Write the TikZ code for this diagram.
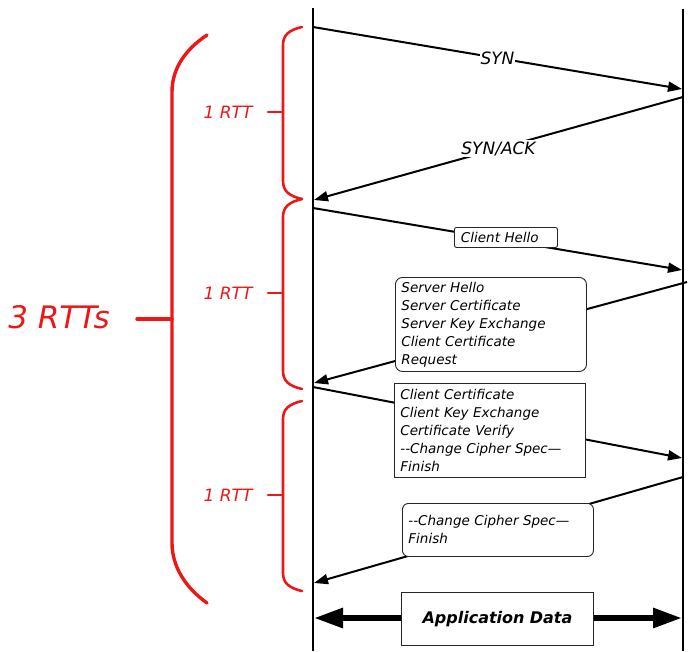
\documentclass[tikz,border=0pt]{standalone}
\usepackage{fontspec}
\setmainfont{DejaVu Sans}
\usetikzlibrary{arrows.meta}
\definecolor{rttred}{RGB}{236,24,24}
\newcommand{\rttbrace}[4]{%
	\draw[rttline] (302,#2) .. controls (289,{#2+3}) and (283,{#2+8}) .. (283,{#2+18})
		-- (283,{#4-18}) .. controls (283,{#4-8}) and (289,{#4-3}) .. (302,#4);
	\draw[rttline] (283,#3) -- (268,#3);
	\node[rttlabel] (#1) at (228,#3) {1 RTT};}

\begin{document}
\begin{tikzpicture}[x=1pt, y=-1pt,
	timeline/.style={line width=2pt},
	msg/.style={line width=2pt, -{Triangle[length=14pt,width=10pt]}},
	msglabel/.style={fill=white, inner sep=1pt, font=\fontsize{17}{20}\selectfont\itshape},
	msgbox/.style={draw=black!85, line width=0.9pt, fill=white, anchor=north west,
		align=left, inner xsep=6pt, inner ysep=2pt, text width=179pt,
		font=\fontsize{13.5}{18}\selectfont\itshape},
	datamsg/.style={line width=6pt, {Triangle[length=29pt,width=19pt]}-{Triangle[length=29pt,width=19pt]}},
	rttline/.style={draw=rttred, line width=2.6pt, line cap=round},
	rttlabel/.style={text=rttred, font=\fontsize{17}{18}\selectfont\itshape}]
\useasboundingbox (0,0) rectangle (692,651);

\coordinate (client top) at (313,8);
\coordinate (client bottom) at (313,651);
\coordinate (server top) at (683,9);
\coordinate (server bottom) at (683,651);
\draw[timeline] (client top) -- (client bottom);
\draw[timeline] (server top) -- (server bottom);

\coordinate (c1) at (313,27);
\coordinate (s1) at (682,89);
\coordinate (s2) at (683,97);
\coordinate (c2) at (314,200);
\coordinate (c3) at (313,208);
\coordinate (s3) at (682,270);
\coordinate (s4) at (687,282);
\coordinate (c4) at (314,383);
\coordinate (c5) at (313,387);
\coordinate (s5) at (682,458);
\coordinate (s6) at (683,477);
\coordinate (c6) at (314,583);
\coordinate (c7) at (314,618);
\coordinate (s7) at (682,618);

\draw[msg] (c1) -- node[msglabel] (syn) {SYN} (s1);
\draw[msg] (s2) -- node[msglabel] (synack) {SYN/ACK} (c2);
\draw[msg] (c3) -- (s3);
\draw[msg] (s4) -- (c4);
\draw[msg] (c5) -- (s5);
\draw[msg] (s6) -- (c6);
\draw[datamsg] (c7) -- (s7);

\node[msgbox, text width=90pt, minimum height=20pt, inner xsep=6.5pt, rounded corners=2pt]
	(hello) at (454,227) {Client Hello};
\node[msgbox, minimum height=94pt, rounded corners=7pt] (serverhello) at (395,277)
	{Server Hello\\Server Certificate\\Server Key Exchange\\Client Certificate\\Request};
\node[msgbox, minimum height=94pt] (clientcert) at (394,383)
	{Client Certificate\\Client Key Exchange\\Certificate Verify\\-{}-Change Cipher Spec—\\Finish};
\node[msgbox, minimum height=53pt, rounded corners=6pt] (serverfinish) at (402,503)
	{-{}-Change Cipher Spec—\\Finish};
\node[msgbox, text width=180pt, minimum height=53pt, align=center,
	font=\fontsize{16}{18}\selectfont\bfseries\itshape] (appdata) at (401,592) {Application Data};

\rttbrace{rtt1}{27}{112}{199}
\rttbrace{rtt2}{199}{293}{389}
\rttbrace{rtt3}{401}{495}{591}

\draw[rttline, line width=3.4pt] (207,35) .. controls (186,49) and (172,68) .. (172,92)
	-- (172,543) .. controls (172,567) and (186,588) .. (207,603);
\draw[rttline, line width=3.4pt] (172,319) -- (137,319);
\node[rttlabel, font=\fontsize{31}{34}\selectfont\itshape] (total) at (59,317) {3 RTTs};
\end{tikzpicture}
\end{document}
